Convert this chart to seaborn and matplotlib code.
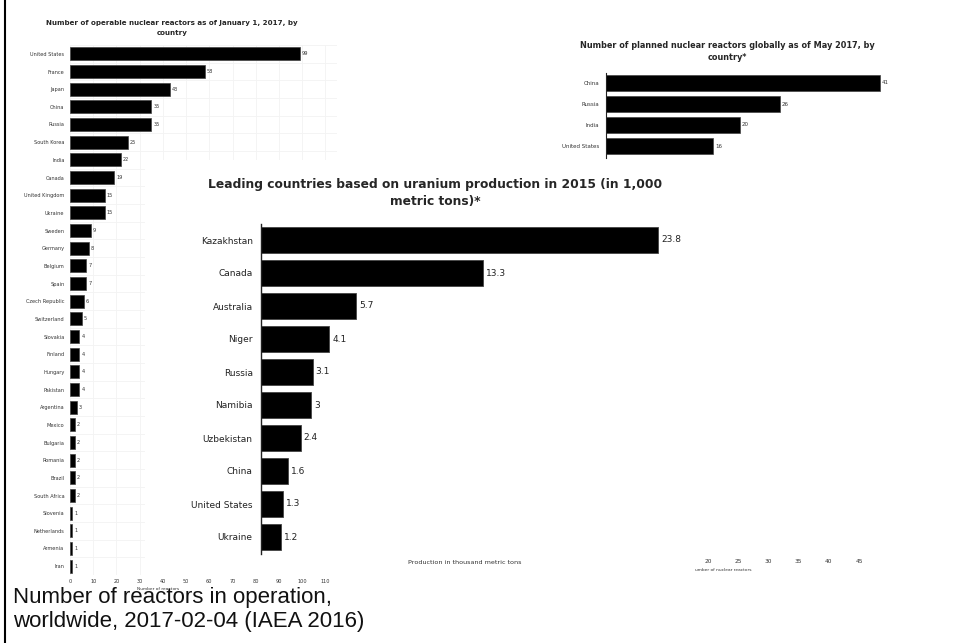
import matplotlib
matplotlib.use("Agg")
import matplotlib.pyplot as plt
from matplotlib.patches import Rectangle
from matplotlib.lines import Line2D
import seaborn as sns
import pandas as pd

# ---------------- data ----------------
op_countries = ["United States", "France", "Japan", "China", "Russia", "South Korea", "India",
                "Canada", "United Kingdom", "Ukraine", "Sweden", "Germany", "Belgium", "Spain",
                "Czech Republic", "Switzerland", "Slovakia", "Finland", "Hungary", "Pakistan",
                "Argentina", "Mexico", "Bulgaria", "Romania", "Brazil", "South Africa",
                "Slovenia", "Netherlands", "Armenia", "Iran"]
op_values = [99, 58, 43, 35, 35, 25, 22, 19, 15, 15, 9, 8, 7, 7, 6, 5, 4, 4, 4, 4,
             3, 2, 2, 2, 2, 2, 1, 1, 1, 1]
op_xticks = [0, 10, 20, 30, 40, 50, 60, 70, 80, 90, 100, 110]

plan_countries = ["China", "Russia", "India", "United States"]
plan_values = [41, 26, 20, 16]
plan_xticks = [20, 25, 30, 35, 40, 45]

ur_countries = ["Kazakhstan", "Canada", "Australia", "Niger", "Russia", "Namibia",
                "Uzbekistan", "China", "United States", "Ukraine"]
ur_values = [23.8, 13.3, 5.7, 4.1, 3.1, 3, 2.4, 1.6, 1.3, 1.2]
ur_labels = ["23.8", "13.3", "5.7", "4.1", "3.1", "3", "2.4", "1.6", "1.3", "1.2"]

# ---------------- layout ----------------
W, H = 955, 643
sns.set_style("white")
plt.rcParams["font.family"] = ["DejaVu Sans"]

fig = plt.figure(figsize=(W / 100, H / 100), dpi=100)
fig.patch.set_facecolor("white")


def box(l, t, r, b):
    return [l / W, 1 - b / H, (r - l) / W, (b - t) / H]


def fx(x):
    return x / W


def fy(y):
    return 1 - y / H


# ---------- left chart: operable reactors ----------
ax1 = fig.add_axes(box(70, 45, 337, 575))
ax1.set_zorder(1)
df1 = pd.DataFrame({"country": op_countries, "n": op_values})
sns.barplot(data=df1, y="country", x="n", color="black", width=0.75,
            edgecolor="#444444", linewidth=0.5, saturation=1, ax=ax1)
ax1.set_xlim(0, 115)
ax1.set_ylim(len(op_countries) - 0.5, -0.5)
ax1.set_xticks(op_xticks)
ax1.set_yticks(range(len(op_countries)))
ax1.set_yticks([i + 0.5 for i in range(-1, len(op_countries))], minor=True)
ax1.grid(True, axis="x", which="major", color="#f3f3f3", lw=0.6)
ax1.grid(True, axis="y", which="minor", color="#f3f3f3", lw=0.6)
ax1.set_axisbelow(True)
ax1.tick_params(axis="both", which="both", length=0, labelsize=3.6, colors="#333333", pad=4)
ax1.tick_params(axis="x", pad=3)
for s in ax1.spines.values():
    s.set_visible(False)
ax1.set_ylabel("")
ax1.set_xlabel("Number of reactors", fontsize=3.2, color="#333333", labelpad=2)
ax1.xaxis.set_label_coords((158 - 70) / (337 - 70), -0.022)
ax1.bar_label(ax1.containers[0], labels=[str(v) for v in op_values],
              fontsize=3.6, color="#333333", padding=1.5)
fig.text(fx(172), fy(22.5), "Number of operable nuclear reactors as of January 1, 2017, by",
         ha="center", va="center", fontsize=5.1, fontweight="bold")
fig.text(fx(172), fy(33), "country", ha="center", va="center", fontsize=5.1, fontweight="bold")

# ---------- right chart: planned reactors ----------
ax2 = fig.add_axes(box(606, 72.5, 900, 158))
ax2.set_zorder(1)
df2 = pd.DataFrame({"country": plan_countries, "n": plan_values})
sns.barplot(data=df2, y="country", x="n", color="black", width=0.8,
            edgecolor="#444444", linewidth=0.5, saturation=1, ax=ax2)
ax2.set_xlim(0, 294 / 6.68)
ax2.set_ylim(3 + 0.5 + (158 - 156.5) / 21, -0.5)
ax2.set_xticks([])
ax2.set_ylabel("")
ax2.set_xlabel("")
for k in ["top", "right", "bottom"]:
    ax2.spines[k].set_visible(False)
ax2.spines["left"].set_color("#222222")
ax2.spines["left"].set_linewidth(0.8)
ax2.tick_params(axis="y", length=0, labelsize=4.0, colors="#333333", pad=5)
ax2.bar_label(ax2.containers[0], labels=[str(v) for v in plan_values],
              fontsize=4.0, color="#333333", padding=1.5)
fig.text(fx(727), fy(45), "Number of planned nuclear reactors globally as of May 2017, by",
         ha="center", va="center", fontsize=5.9, fontweight="bold")
fig.text(fx(727), fy(58), "country*", ha="center", va="center", fontsize=5.9, fontweight="bold")

# ---------- cover (middle chart image background) ----------
cover = Rectangle((fx(145), fy(577)), (695 - 145) / W, (577 - 160) / H,
                  transform=fig.transFigure, facecolor="white", edgecolor="none", zorder=2)
fig.patches.append(cover)

# ---------- middle chart: uranium production ----------
ax3 = fig.add_axes(box(261, 223.5, 678, 553.5))
ax3.set_zorder(3)
ax3.patch.set_alpha(0)
df3 = pd.DataFrame({"country": ur_countries, "v": ur_values})
sns.barplot(data=df3, y="country", x="v", color="black", width=0.78,
            edgecolor="#444444", linewidth=0.6, saturation=1, ax=ax3)
ax3.set_xlim(0, 417 / 16.7)
ax3.set_ylim(len(ur_countries) - 0.5, -0.5)
ax3.set_xticks([])
ax3.set_ylabel("")
ax3.set_xlabel("")
for k in ["top", "right", "bottom"]:
    ax3.spines[k].set_visible(False)
ax3.spines["left"].set_color("#222222")
ax3.spines["left"].set_linewidth(1.0)
ax3.tick_params(axis="y", length=0, labelsize=6.5, colors="#222222", pad=6)
ax3.bar_label(ax3.containers[0], labels=ur_labels, fontsize=6.5, color="#222222", padding=2)
fig.text(fx(435), fy(184), "Leading countries based on uranium production in 2015 (in 1,000",
         ha="center", va="center", fontsize=8.8, fontweight="bold", zorder=3)
fig.text(fx(435), fy(201), "metric tons)*", ha="center", va="center",
         fontsize=8.8, fontweight="bold", zorder=3)
fig.text(fx(465), fy(563), "Production in thousand metric tons", ha="center", va="center",
         fontsize=4.6, color="#333333", zorder=3)

# ---------- planned chart x axis remnant ----------
ax4 = fig.add_axes(box(708, 552, 859, 553))
ax4.set_zorder(3)
ax4.patch.set_alpha(0)
ax4.set_xlim(plan_xticks[0], plan_xticks[-1])
ax4.set_xticks(plan_xticks)
ax4.set_yticks([])
for s in ax4.spines.values():
    s.set_visible(False)
ax4.tick_params(axis="x", length=0, labelsize=4.2, colors="#333333", pad=4)
fig.text(fx(695), fy(570), "umber of nuclear reactors", ha="left", va="center",
         fontsize=3.2, color="#333333", zorder=3)

# ---------- caption & border ----------
cap_font = ["Liberation Sans", "DejaVu Sans"]
fig.text(fx(13), fy(603), "Number of reactors in operation,", ha="left", va="baseline",
         fontsize=16, family=cap_font, color="#111111", zorder=3)
fig.text(fx(13), fy(627), "worldwide, 2017-02-04 (IAEA 2016)", ha="left", va="baseline",
         fontsize=16, family=cap_font, color="#111111", zorder=3)
fig.lines.append(Line2D([fx(5), fx(5)], [0, 1], transform=fig.transFigure,
                        color="black", lw=1.5, zorder=4))

fig.savefig("out.png", dpi=100)
